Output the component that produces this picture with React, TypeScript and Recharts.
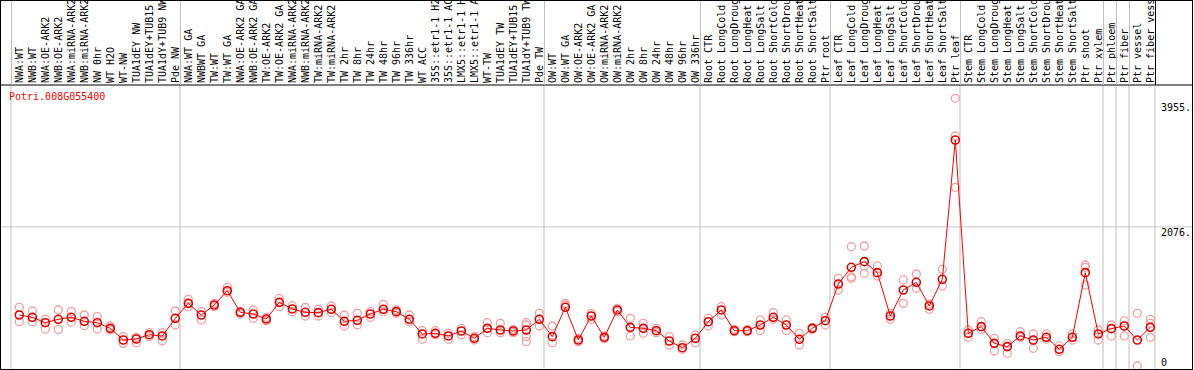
import { ScatterChart, Scatter, XAxis, YAxis, ReferenceLine } from 'recharts';

const labels = [
  "NWA:WT", "NWB:WT", "NWA:OE-ARK2", "NWB:OE-ARK2", "NWA:miRNA-ARK2", "NWB:miRNA-ARK2", "NW 0hr", "WT H2O", "WT-NW",
  "TUA1dEY NW", "TUA1dEY+TUB15 NW", "TUA1dY+TUB9 NW", "Pde NW",
  "NWA:WT GA", "NWBWT GA", "TW:WT", "TW:WT GA", "NWA:OE-ARK2 GA", "NWB:OE-ARK2 GA", "TW:OE-ARK2", "TW:OE-ARK2 GA",
  "NWA:miRNA-ARK2 GA", "NWB:miRNA-ARK2 GA", "TW:miRNA-ARK2", "TW:miRNA-ARK2 GA", "TW 2hr", "TW 8hr", "TW 24hr", "TW 48hr",
  "TW 96hr", "TW 336hr", "WT ACC", "35S::etr1-1 H2O", "35S::etr1-1 ACC", "LMX5::etr1-1 H2O", "LMX5::etr1-1 ACC", "WT-TW",
  "TUA1dEY TW", "TUA1dEY+TUB15 TW", "TUA1dY+TUB9 TW", "Pde TW",
  "OW:WT", "OW:WT GA", "OW:OE-ARK2", "OW:OE-ARK2 GA", "OW:miRNA-ARK2", "OW:miRNA-ARK2 GA", "OW 2hr", "OW 8hr", "OW 24hr",
  "OW 48hr", "OW 96hr", "OW 336hr",
  "Root CTR", "Root LongCold", "Root LongDrought", "Root LongHeat", "Root LongSalt", "Root ShortCold", "Root ShortDrought",
  "Root ShortHeat", "Root ShortSalt", "Ptr root",
  "Leaf CTR", "Leaf LongCold", "Leaf LongDrought", "Leaf LongHeat", "Leaf LongSalt", "Leaf ShortCold", "Leaf ShortDrought",
  "Leaf ShortHeat", "Leaf ShortSalt", "Ptr leaf",
  "Stem CTR", "Stem LongCold", "Stem LongDrought", "Stem LongHeat", "Stem LongSalt", "Stem ShortCold", "Stem ShortDrought",
  "Stem ShortHeat", "Stem ShortSalt", "Ptr shoot", "Ptr xylem",
  "Ptr phloem", "Ptr fiber", "Ptr vessel", "Ptr fiber vessel",
];

const means = [
  761, 727, 646, 697, 727, 667, 646, 562, 388, 403, 467, 448, 712,
  935, 761, 910, 1124, 801, 776, 701, 950, 851, 801, 796, 846, 667, 682, 776, 846, 811, 697, 478, 488, 448, 522, 413, 562, 537, 522, 537, 697,
  438, 876, 388, 746, 428, 836, 577, 562, 527, 373, 273, 413,
  661, 836, 527, 527, 612, 727, 612, 398, 562, 676,
  1224, 1473, 1557, 1393, 746, 1134, 1249, 896, 1294, 3373,
  488, 587, 338, 289, 448, 388, 428, 249, 428, 1393, 478,
  557, 597, 388, 577,
];

const repHigh = [
  876, 821, 697, 836, 811, 761, 736, 597, 438, 428, 497, 497, 821,
  995, 811, 935, 1174, 811, 836, 727, 1010, 900, 876, 846, 895, 761, 786, 811, 920, 836, 761, 527, 527, 488, 562, 438, 646, 636, 547, 646, 786,
  597, 935, 413, 786, 448, 861, 712, 636, 562, 438, 313, 463,
  712, 885, 547, 547, 687, 796, 687, 488, 577, 727,
  1309, 1781, 1791, 1493, 786, 1284, 1373, 925, 1443, 3995,
  537, 661, 413, 338, 512, 478, 478, 299, 478, 1507, 537,
  612, 676, 786, 697,
];

const repLow = [
  661, 661, 552, 547, 652, 602, 552, 537, 338, 348, 438, 373, 612,
  885, 687, 885, 1100, 776, 712, 676, 885, 811, 746, 746, 796, 597, 612, 727, 811, 786, 661, 398, 468, 398, 463, 388, 497, 497, 497, 363, 597,
  348, 910, 363, 697, 408, 811, 448, 488, 497, 313, 249, 348,
  597, 761, 512, 512, 527, 697, 527, 313, 547, 612,
  1134, 1333, 1383, 1343, 697, 935, 1160, 846, 1194, 2667,
  428, 547, 224, 189, 428, 264, 398, 214, 388, 1209, 388,
  448, 448, 0, 428,
];

// extra replicates: [category index, value]
const repExtra = [
  [39, 612], [39, 438], [64, 1309], [65, 1493], [72, 3433], [82, 1473], [87, 637],
];

const groupStarts = [0, 13, 41, 53, 63, 73, 84, 85, 86, 88];
const yTicks = [0, 2076, 3955];
const yTickText = ["0", "2076.", "3955."];

const STEP = 13; // px per category
const SEP = 0.64; // separators sit this far before a group's first point
const font = '"DejaVu Sans Mono", monospace';

const meanPts = means.map((v, i) => ({ x: i, y: v }));
const repPts = [
  ...repHigh.map((v, i) => ({ x: i, y: v })),
  ...repLow.map((v, i) => ({ x: i, y: v })),
  ...repExtra.map(([i, v]) => ({ x: i, y: v })),
];

function CatTick(props: any) {
  const { x, payload } = props;
  const i = payload.value;
  const bx = x + 3.5;
  const sx = Math.round(x - SEP * STEP) + 0.5;
  const ex = Math.round(x + (1 - SEP) * STEP) + 0.5;
  return (
    <g>
      <text x={bx} y={83} transform={`rotate(-90 ${bx} 83)`} fontSize={10} fontFamily={font} fill="#000">
        {labels[i]}
      </text>
      {groupStarts.includes(i) && <line x1={sx} x2={sx} y1={0} y2={85} stroke="#c0c0c0" />}
      {i === labels.length - 1 && <line x1={ex} x2={ex} y1={0} y2={85} stroke="#000" />}
    </g>
  );
}

function ValTick(props: any) {
  const { x, y, payload } = props;
  const idx = yTicks.indexOf(payload.value);
  return (
    <text x={x - 29} y={Math.min(y + 9.5, 366)} fontSize={10} fontFamily={font} fill="#000">
      {yTickText[idx]}
    </text>
  );
}

const repShape = (p: any) => <circle cx={p.cx} cy={p.cy} r={4} fill="none" stroke="#f2a0a0" strokeWidth={1.3} />;
const meanShape = (p: any) => <circle cx={p.cx} cy={p.cy} r={4} fill="none" stroke="#e00000" strokeWidth={1.6} />;

export default function App() {
  return (
    <div style={{ position: 'relative', width: 1194, height: 370, background: '#fff' }}>
      <style>{'body{margin:0}'}</style>
      <ScatterChart width={1194} height={370} margin={{ top: 0, right: 2, bottom: 1, left: 1 }}>
        <XAxis
          type="number"
          dataKey="x"
          orientation="top"
          domain={[-1.408, 90.207]}
          allowDataOverflow
          ticks={labels.map((_, i) => i)}
          interval={0}
          height={85}
          tick={<CatTick />}
          tickLine={false}
          tickSize={0}
          axisLine={{ stroke: '#000' }}
        />
        <YAxis
          type="number"
          dataKey="y"
          orientation="right"
          mirror
          domain={[-45, 4194]}
          allowDataOverflow
          ticks={yTicks}
          interval={0}
          tick={<ValTick />}
          tickSize={0}
          tickLine={false}
          axisLine={false}
        />
        <ReferenceLine y={2076} stroke="#c8c8c8" />
        {groupStarts.map((s) => (
          <ReferenceLine key={s} x={s - SEP} stroke="#c0c0c0" />
        ))}
        <Scatter data={repPts} shape={repShape} isAnimationActive={false} />
        <Scatter
          data={meanPts}
          shape={meanShape}
          line={{ stroke: '#ff0000', strokeWidth: 1 }}
          lineType="joint"
          isAnimationActive={false}
        />
      </ScatterChart>
      <div
        style={{
          position: 'absolute', left: 0, top: 0, width: 1193, height: 370, boxSizing: 'border-box',
          border: '1px solid #000', pointerEvents: 'none',
        }}
      />
      <div
        style={{
          position: 'absolute', left: 9, top: 91, color: '#ff0000', fontFamily: font, fontSize: 10,
          lineHeight: '12px', whiteSpace: 'nowrap',
        }}
      >
        Potri.008G055400
      </div>
    </div>
  );
}
